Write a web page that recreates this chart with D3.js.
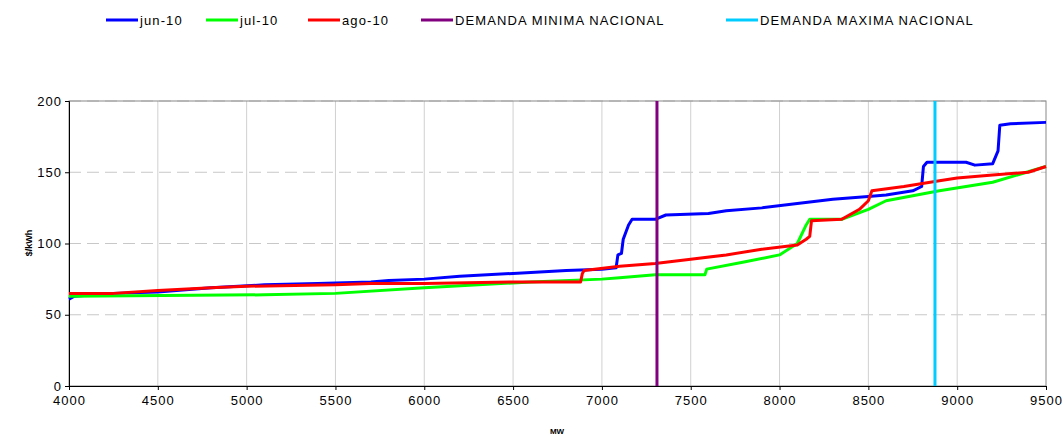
<!DOCTYPE html><html><head><script src="https://cdn.jsdelivr.net/npm/d3@7"></script>
<style>body{margin:0;background:#fff}text{font-family:"Liberation Sans",Arial,sans-serif}</style></head><body><svg width="1064" height="438"></svg><script>
const jun10=[[4000,61],[4030,63],[4250,65],[4500,66],[4800,69],[5100,71],[5400,72],[5700,73],[5800,74],[6000,75],[6200,77],[6500,79],[6800,81],[7000,82],[7080,83],[7090,92],[7110,93],[7120,103],[7150,113],[7170,117],[7300,117],[7360,120],[7600,121],[7700,123],[7900,125],[8100,128],[8300,131],[8500,133],[8600,134],[8750,137],[8800,140],[8810,154],[8830,157],[9050,157],[9100,155],[9200,156],[9230,165],[9240,183],[9300,184],[9500,185]];
const jul10=[[4000,63],[5100,64],[5500,65],[6000,69],[6600,73],[7000,75],[7100,76],[7300,78],[7580,78],[7590,82],[7800,87],[8000,92],[8100,100],[8150,113],[8170,117],[8350,117],[8500,124],[8600,130],[8900,137],[9200,143],[9500,154]];
const ago10=[[4000,65],[4250,65],[4500,67],[4800,69],[5000,70],[5500,71],[5700,72],[6000,72],[6500,73],[6880,73],[6890,79],[6900,81],[7100,84],[7300,86],[7500,89],[7700,92],[7900,96],[8100,99],[8150,103],[8170,105],[8180,116],[8350,117],[8450,124],[8500,130],[8520,137],[8700,140],[8900,144],[9000,146],[9200,148],[9400,150],[9500,154]];
const demandaMin=7310, demandaMax=8875;
const xTicks=[4000,4500,5000,5500,6000,6500,7000,7500,8000,8500,9000,9500];
const yTicks=[0,50,100,150,200];
const series=[{name:"jun-10",data:jun10,color:"#0000ff"},{name:"jul-10",data:jul10,color:"#00ff00"},{name:"ago-10",data:ago10,color:"#ff0000"}];
const svg=d3.select("svg");
const x=d3.scaleLinear().domain([4000,9500]).range([69,1046]);
const y=d3.scaleLinear().domain([0,200]).range([386,101]);
svg.append("g").selectAll("line").data(yTicks.slice(1)).join("line").attr("x1",69).attr("x2",1046).attr("y1",d=>y(d)).attr("y2",d=>y(d)).attr("stroke","#c8c8c8").attr("stroke-dasharray","12,6");
svg.append("g").selectAll("line").data(xTicks.slice(1,-1)).join("line").attr("x1",d=>x(d)).attr("x2",d=>x(d)).attr("y1",101).attr("y2",386).attr("stroke","#d0d0d0");
svg.append("rect").attr("x",69).attr("y",101).attr("width",977).attr("height",285).attr("fill","none").attr("stroke","#888");
svg.append("g").attr("transform","translate(0,386)").call(d3.axisBottom(x).tickValues(xTicks).tickFormat(d3.format("d")).tickSize(4)).call(g=>{g.select(".domain").attr("stroke","#000");g.selectAll("text").attr("font-size",13).attr("fill","#000").attr("dy","0.9em").attr("letter-spacing","1px")});
svg.append("g").attr("transform","translate(69,0)").call(d3.axisLeft(y).tickValues(yTicks).tickSize(4)).call(g=>{g.select(".domain").attr("stroke","#000");g.selectAll("text").attr("font-size",13).attr("fill","#000").attr("letter-spacing","1px")});
const line=d3.line().x(d=>x(d[0])).y(d=>y(d[1]));
series.forEach(s=>svg.append("path").datum(s.data).attr("d",line).attr("fill","none").attr("stroke",s.color).attr("stroke-width",3).attr("stroke-linejoin","round"));
svg.append("line").attr("x1",x(demandaMin)).attr("x2",x(demandaMin)).attr("y1",101).attr("y2",386).attr("stroke","#800080").attr("stroke-width",3);
svg.append("line").attr("x1",x(demandaMax)).attr("x2",x(demandaMax)).attr("y1",101).attr("y2",386).attr("stroke","#00ccff").attr("stroke-width",3);
svg.append("text").attr("transform","translate(32,243) rotate(-90)").attr("text-anchor","middle").attr("font-size",9).attr("font-weight","bold").text("$/kWh");
svg.append("text").attr("x",557).attr("y",434).attr("text-anchor","middle").attr("font-size",8).attr("font-weight","bold").text("MW");
const leg=[{name:"jun-10",color:"#0000ff",x:106},{name:"jul-10",color:"#00ff00",x:206},{name:"ago-10",color:"#ff0000",x:308},{name:"DEMANDA MINIMA NACIONAL",color:"#800080",x:421},{name:"DEMANDA MAXIMA NACIONAL",color:"#00ccff",x:726}];
const lg=svg.append("g").selectAll("g").data(leg).join("g").attr("transform",d=>`translate(${d.x},20)`);
lg.append("line").attr("x1",0).attr("x2",32).attr("stroke",d=>d.color).attr("stroke-width",3);
lg.append("text").attr("x",34).attr("y",5).attr("font-size",13).attr("letter-spacing","1.1px").text(d=>d.name);
</script></body></html>
